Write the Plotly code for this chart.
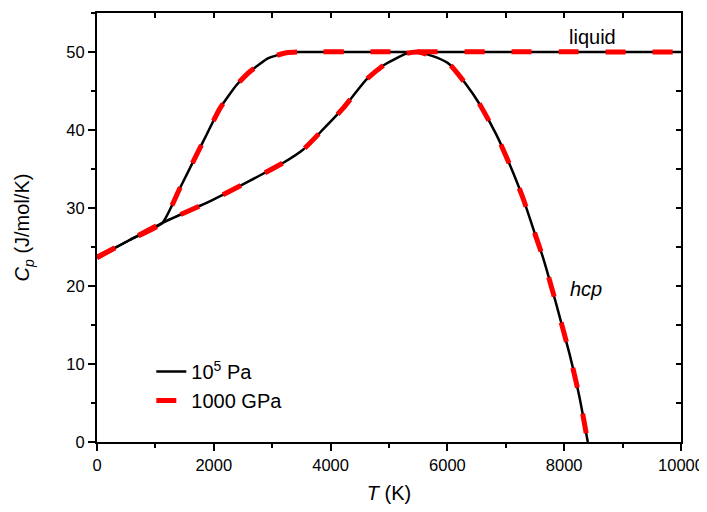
import plotly.graph_objects as go

# Data (both pressures give identical curves)
T_liquid = [0, 560, 1121, 1424, 1823, 2108, 2393, 2621, 2934, 3248, 3450, 10000]
Cp_liquid = [23.66, 25.9, 28.1, 32.6, 38.6, 42.8, 45.8, 47.5, 49.2, 49.9, 50.0, 50.0]

T_hcp = [0, 560, 1121, 2000, 3190, 3532, 3874, 4216, 4615, 4929, 5299, 5500, 5812,
         6039, 6325, 6552, 6838, 7065, 7293, 7521, 7635, 7863, 8091, 8262, 8404]
Cp_hcp = [23.66, 25.9, 28.1, 31.1, 35.8, 37.5, 40.1, 42.8, 46.5, 48.4, 49.8, 50.0, 49.3,
          48.4, 45.8, 43.3, 39.4, 35.6, 31.3, 26.2, 23.7, 17.7, 11.3, 5.75, 0]

series_names = ["10<sup>5</sup> Pa", "1000 GPa"]

FONT = "Liberation Sans, Arial, sans-serif"

fig = go.Figure()

# 10^5 Pa: black solid
fig.add_trace(go.Scatter(x=T_liquid, y=Cp_liquid, mode="lines", name=series_names[0],
                         line=dict(color="black", width=2.5, shape="spline", smoothing=0.5),
                         legendgroup="a"))
fig.add_trace(go.Scatter(x=T_hcp, y=Cp_hcp, mode="lines", name=series_names[0],
                         line=dict(color="black", width=2.5, shape="spline", smoothing=0.5),
                         legendgroup="a", showlegend=False))
# 1000 GPa: red dashed
fig.add_trace(go.Scatter(x=T_liquid, y=Cp_liquid, mode="lines", name=series_names[1],
                         line=dict(color="#ff0000", width=5, dash="20px,27px", shape="spline", smoothing=0.5),
                         legendgroup="b"))
fig.add_trace(go.Scatter(x=T_hcp, y=Cp_hcp, mode="lines", name=series_names[1],
                         line=dict(color="#ff0000", width=5, dash="20px,27px", shape="spline", smoothing=0.5),
                         legendgroup="b", showlegend=False))

# helper trace for mirrored (inside) axes
fig.add_trace(go.Scatter(x=[None], y=[None], xaxis="x2", yaxis="y2", showlegend=False,
                         hoverinfo="skip"))

fig.update_layout(
    width=699, height=496,
    margin=dict(l=89, r=26, t=5, b=62),
    plot_bgcolor="white", paper_bgcolor="white",
    font=dict(family=FONT, size=16.5, color="black"),
    showlegend=True,
    legend=dict(x=0.093, y=0.1305, xanchor="left", yanchor="middle",
                bgcolor="rgba(0,0,0,0)", font=dict(size=20), tracegroupgap=0),
    xaxis=dict(range=[0, 10000], dtick=2000, tick0=0, showgrid=False, zeroline=False,
               automargin=False, tickformat="d", ticklabeloverflow="allow",
               showline=True, linecolor="black", linewidth=2,
               ticks="outside", ticklen=7, tickwidth=2, tickcolor="black",
               minor=dict(dtick=1000, ticks="outside", ticklen=4, tickwidth=2, tickcolor="black"),
               title=dict(text="<i>T</i> (K)", font=dict(size=20), standoff=15),
               tickfont=dict(size=16.5)),
    yaxis=dict(range=[0, 55], dtick=10, tick0=0, showgrid=False, zeroline=False,
               automargin=False, ticklabeloverflow="allow",
               showline=True, linecolor="black", linewidth=2,
               ticks="outside", ticklen=7, tickwidth=2, tickcolor="black",
               minor=dict(dtick=5, ticks="outside", ticklen=4, tickwidth=2, tickcolor="black"),
               title=dict(text="<i>C</i><sub><i>p</i></sub> (J/mol/K)", font=dict(size=20), standoff=31),
               tickfont=dict(size=16.5)),
    xaxis2=dict(range=[0, 10000], overlaying="x", side="top", anchor="y2", dtick=1000,
                automargin=False,
                showgrid=False, zeroline=False, showline=True, linecolor="black", linewidth=2,
                ticks="inside", ticklen=5, tickwidth=2, tickcolor="black", showticklabels=False),
    yaxis2=dict(range=[0, 55], overlaying="y", side="right", anchor="x2", dtick=5,
                automargin=False,
                showgrid=False, zeroline=False, showline=True, linecolor="black", linewidth=2,
                ticks="inside", ticklen=5, tickwidth=2, tickcolor="black", showticklabels=False),
    annotations=[
        dict(x=8484, y=51.9, xref="x", yref="y", text="liquid", showarrow=False,
             font=dict(size=20), yanchor="middle"),
        dict(x=8376, y=19.65, xref="x", yref="y", text="<i>hcp</i>", showarrow=False,
             font=dict(size=20), yanchor="middle"),
    ],
)

fig.write_html("out.html")
